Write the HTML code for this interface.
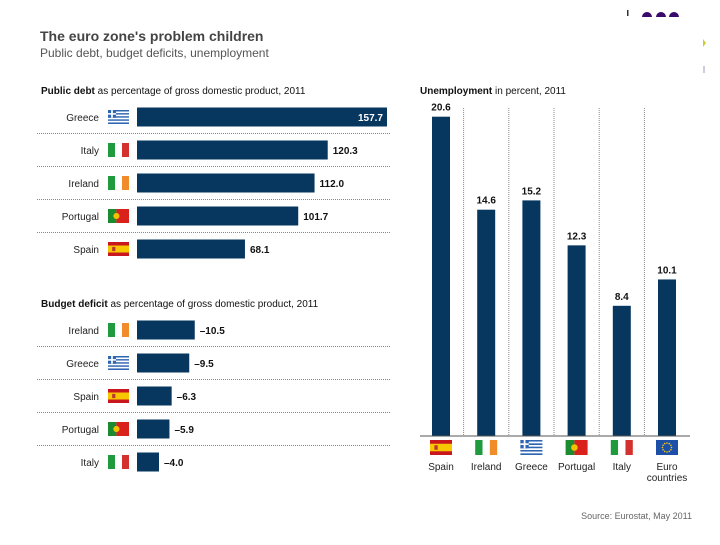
<!DOCTYPE html>
<html><head><meta charset="utf-8"><style>
body{margin:0;background:#fff;width:720px;height:540px;overflow:hidden;font-family:"Liberation Sans",sans-serif}
</style></head><body>
<svg id="c" width="720" height="540" xmlns="http://www.w3.org/2000/svg" font-family="Liberation Sans, sans-serif">
<text x="40" y="41" font-size="14" font-weight="bold" fill="#444">The euro zone's problem children</text>
<text x="40" y="57" font-size="12" fill="#555">Public debt, budget deficits, unemployment</text>
<text x="41" y="94" font-size="10" fill="#111"><tspan font-weight="bold">Public debt</tspan> as percentage of gross domestic product, 2011</text>
<text x="41" y="307" font-size="10" fill="#111"><tspan font-weight="bold">Budget deficit</tspan> as percentage of gross domestic product, 2011</text>
<text x="420" y="94" font-size="10" fill="#111"><tspan font-weight="bold">Unemployment</tspan> in percent, 2011</text>
<text x="692" y="519" font-size="9" fill="#666" text-anchor="end">Source: Eurostat, May 2011</text>
<g><rect x="627" y="10" width="1.5" height="6" fill="#333"/><path d="M642 17a5 5 0 0 1 10 0z M656 17a5 5 0 0 1 10 0z M669 17a5 5 0 0 1 10 0z" fill="#3a0a6a"/><path d="M703 39l3 4-3 4z" fill="#cc3"/><rect x="703" y="66" width="2" height="7" fill="#ccd"/></g>
<g id="g"></g>
</svg>
<script>
const debtCats=["Greece","Italy","Ireland","Portugal","Spain"];
const debtVals=[157.7,120.3,112.0,101.7,68.1];
const defCats=["Ireland","Greece","Spain","Portugal","Italy"];
const defVals=[-10.5,-9.5,-6.3,-5.9,-4.0];
const unCats=["Spain","Ireland","Greece","Portugal","Italy","Euro countries"];
const unVals=[20.6,14.6,15.2,12.3,8.4,10.1];
const NS="http://www.w3.org/2000/svg",g=document.getElementById('g');
function el(t,a,p){const e=document.createElementNS(NS,t);for(const k in a)e.setAttribute(k,a[k]);(p||g).appendChild(e);return e;}
function flag(name,x,y,w,h){const f=el('g',{});


const r=(X,Y,W,H,c)=>el('rect',{x:x+X*w,y:y+Y*h,width:W*w,height:H*h,fill:c},f);
if(name=="Greece"){for(let i=0;i<9;i++)r(0,i/9,1,1/9,i%2?'#fff':'#2f66b3');r(0,0,.38,5/9,'#2f66b3');r(.15,0,.08,5/9,'#fff');r(0,2/9,.38,1/9,'#fff');}
else if(name=="Italy"){r(0,0,1/3,1,'#1f9a3c');r(1/3,0,1/3,1,'#fff');r(2/3,0,1/3,1,'#d3312d');}
else if(name=="Ireland"){r(0,0,1/3,1,'#1f9a3c');r(1/3,0,1/3,1,'#fff');r(2/3,0,1/3,1,'#f08c2a');}
else if(name=="Portugal"){r(0,0,.4,1,'#1c8a2e');r(.4,0,.6,1,'#d9221c');el('circle',{cx:x+.4*w,cy:y+h/2,r:h*.22,fill:'#f2c200'},f);}
else if(name=="Spain"){r(0,0,1,1,'#c8181e');r(0,.25,1,.5,'#f7c800');r(.2,.35,.15,.3,'#b33');}
else{r(0,0,1,1,'#1e4fa8');for(let i=0;i<12;i++){const a=i*Math.PI/6;el('circle',{cx:x+w/2+Math.cos(a)*h*.3,cy:y+h/2+Math.sin(a)*h*.3,r:.8,fill:'#fc0'},f);}}
}
function hbars(cats,vals,y0,scale,neg,key){
 const x0=137,step=33;
 cats.forEach((c,i)=>{const cy=y0+i*step,v=vals[i],w=Math.abs(v)*scale;
  const b=el('rect',{x:x0,y:cy-9.5,width:w,height:19,fill:'#07375f'});
  
  
  const lbl=el('text',{x:x0-38,y:cy+4,'font-size':10,'text-anchor':'end',fill:'#222'});lbl.textContent=c;
  
  
  flag(c,x0-29,cy-7,21,14);
  const inside=!neg&&w>200;
  const t=el('text',{x:inside?x0+w-4:x0+w+5,y:cy+4,'font-size':10,'font-weight':'bold','text-anchor':inside?'end':'start',fill:inside?'#fff':'#111'});
  t.textContent=neg?v.toFixed(1).replace('-','\u2013'):v.toFixed(1);
  
  
  if(i<cats.length-1){const l=el('line',{x1:37,x2:390,y1:cy+16.5,y2:cy+16.5,stroke:'#888','stroke-dasharray':'1,1'});
   
   }
 });
}
hbars(debtCats,debtVals,117,250/157.7,false,'debt');
hbars(defCats,defVals,330,5.5,true,'deficit');
const base=436,uscale=15.5,ux0=441,ustep=45.2;
for(let i=1;i<unCats.length;i++){const x=ux0+ustep*(i-.5);const l=el('line',{x1:x,x2:x,y1:108,y2:base,stroke:'#888','stroke-dasharray':'1,1'});
 
 }
unCats.forEach((c,i)=>{const cx=ux0+i*ustep,h=unVals[i]*uscale;
 const b=el('rect',{x:cx-9,y:base-h,width:18,height:h,fill:'#07375f'});
 
 
 const t=el('text',{x:cx,y:base-h-6,'font-size':10,'font-weight':'bold','text-anchor':'middle',fill:'#111'});t.textContent=unVals[i].toFixed(1);
 
 
 flag(c,cx-11,440,22,15);
 const words=c.split(' ');words.forEach((w,j)=>{const l=el('text',{x:cx,y:470+j*11,'font-size':10,'text-anchor':'middle',fill:'#222'});l.textContent=w;
  
  });
});
const ax=el('line',{x1:420,x2:690,y1:base,y2:base,stroke:'#555','stroke-width':1});


</script>
</body></html>
